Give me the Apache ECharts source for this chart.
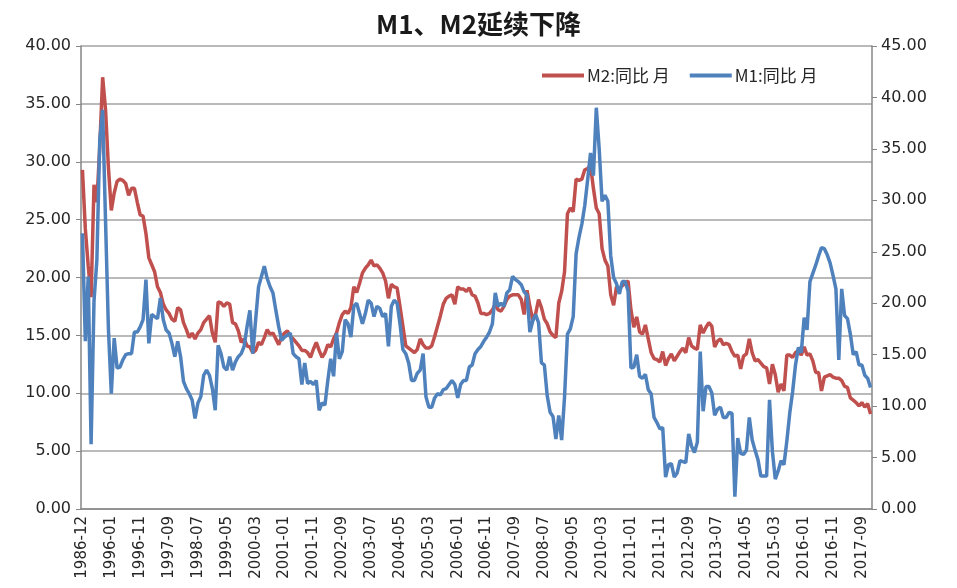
<!DOCTYPE html>
<html>
<head>
<meta charset="utf-8">
<script src="https://cdn.jsdelivr.net/npm/echarts@6/dist/echarts.min.js"></script>
<style>
  html, body { margin: 0; padding: 0; background: #fff; }
  #chart { width: 957px; height: 588px; }
</style>
</head>
<body>
<div id="chart"></div>
<script>
// 年度数据 1986-1995，之后为月度 1996-01 ~ 2017-12
var yearLabels = ['1986-12', '1987-12', '1988-12', '1989-12', '1990-12',
    '1991-12', '1992-12', '1993-12', '1994-12', '1995-12'];
var firstYear = 1996, lastYear = 2017;

// M2:同比 月（左轴）
var m2 = [
    29.3, 24.2, 21.0, 18.3, 28.0, 26.5, 31.3, 37.3, 34.5, 29.5,
    25.8, 27.3, 28.3, 28.5, 28.4, 28.1, 27.1, 27.7, 27.7, 26.5, 25.4, 25.3, // 1996
    23.8, 21.7, 21.1, 20.5, 19.2, 18.7, 17.7, 17.2, 16.9, 16.4, 16.2, 17.4, // 1997
    17.2, 16.1, 15.5, 14.8, 15.2, 14.7, 15.2, 15.5, 16.1, 16.4, 16.7, 15.2, // 1998
    14.4, 17.9, 17.8, 17.5, 17.8, 17.7, 16.1, 16.0, 15.4, 14.4, 14.7, 14.1, // 1999
    14.0, 13.5, 13.7, 14.4, 14.2, 14.8, 15.5, 15.1, 15.2, 14.7, 14.2, 14.9, // 2000
    15.2, 15.4, 14.9, 14.7, 14.4, 14.1, 13.7, 13.7, 13.5, 13.1, 13.8, 14.4, // 2001
    13.7, 13.1, 13.5, 14.2, 14.0, 14.7, 15.2, 16.1, 16.8, 17.1, 16.9, 17.4, // 2002
    19.2, 18.7, 19.5, 20.4, 20.8, 21.1, 21.5, 21.0, 21.1, 20.8, 20.4, 19.7, // 2003
    18.2, 19.4, 19.2, 19.1, 17.5, 15.8, 14.1, 13.9, 13.7, 13.5, 13.8, 14.7, // 2004
    14.2, 13.9, 13.9, 14.1, 14.9, 15.8, 16.7, 17.7, 18.2, 18.4, 18.5, 17.7, // 2005
    19.2, 19.0, 19.0, 18.8, 19.1, 18.5, 18.4, 17.8, 16.9, 16.9, 16.8, 16.9, // 2006
    17.2, 17.7, 17.2, 17.1, 17.5, 18.1, 18.4, 18.5, 18.5, 18.5, 18.1, 16.8, // 2007
    18.9, 17.5, 16.3, 16.9, 18.1, 17.4, 16.4, 16.0, 15.3, 15.0, 14.8, 17.8, // 2008
    18.8, 20.5, 25.5, 26.0, 25.7, 28.5, 28.4, 28.5, 29.3, 29.4, 29.7, 27.7, // 2009
    26.0, 25.5, 22.5, 21.5, 21.0, 18.5, 17.6, 19.2, 19.0, 19.3, 19.5, 19.7, // 2010
    17.2, 15.7, 16.6, 15.3, 15.1, 15.9, 14.7, 13.5, 13.0, 12.9, 12.7, 13.6, // 2011
    12.4, 13.0, 13.4, 12.8, 13.2, 13.6, 13.9, 13.5, 14.8, 14.1, 13.9, 13.8, // 2012
    15.9, 15.2, 15.7, 16.1, 15.8, 14.0, 14.5, 14.7, 14.2, 14.3, 14.2, 13.6, // 2013
    13.2, 13.3, 12.1, 13.2, 13.4, 14.7, 13.5, 12.8, 12.9, 12.6, 12.3, 12.2, // 2014
    10.8, 12.5, 11.6, 10.1, 10.8, 10.2, 13.3, 13.3, 13.1, 13.5, 13.7, 13.3, // 2015
    14.0, 13.3, 13.4, 12.8, 11.8, 11.8, 10.2, 11.4, 11.5, 11.6, 11.4, 11.3, // 2016
    11.3, 11.1, 10.6, 10.5, 9.6, 9.4, 9.2, 8.9, 9.2, 8.8, 9.1, 8.2          // 2017
];

// M1:同比 月（右轴）
var m1 = [
    26.8, 16.3, 22.6, 6.3, 20.2, 24.2, 35.9, 38.8, 28.0, 17.5,
    11.2, 16.6, 13.7, 13.8, 14.5, 15.0, 15.1, 15.1, 17.2, 17.2, 17.7, 18.4, // 1996
    22.3, 16.1, 18.9, 18.7, 18.5, 20.5, 18.4, 17.4, 17.1, 16.1, 14.8, 16.3, // 1997
    14.8, 12.4, 11.7, 11.2, 10.6, 8.8, 10.3, 10.9, 13.0, 13.5, 13.0, 11.7,  // 1998
    9.6, 15.9, 15.1, 13.8, 13.5, 14.8, 13.5, 14.3, 14.8, 15.1, 15.8, 17.7,  // 1999
    19.3, 15.1, 18.4, 21.6, 22.6, 23.6, 22.4, 21.6, 21.0, 19.3, 17.7, 16.4, // 2000
    16.7, 16.9, 17.1, 15.1, 14.8, 14.6, 12.1, 14.2, 12.2, 12.4, 12.1, 12.5, // 2001
    9.6, 10.3, 10.1, 12.5, 14.6, 12.9, 17.1, 14.6, 15.3, 18.4, 18.0, 16.7,  // 2002
    19.7, 20.0, 19.0, 18.0, 19.0, 20.3, 20.0, 18.7, 19.7, 19.5, 18.7, 19.0, // 2003
    15.8, 19.7, 20.3, 20.0, 18.0, 15.5, 15.1, 14.2, 12.5, 12.5, 13.2, 13.5, // 2004
    15.1, 10.9, 9.9, 9.9, 10.8, 11.2, 11.1, 11.6, 11.7, 12.1, 12.5, 12.1,   // 2005
    10.8, 12.1, 12.5, 12.5, 13.8, 14.0, 15.1, 15.5, 15.8, 16.3, 16.7, 17.2, // 2006
    18.0, 21.0, 19.7, 20.0, 19.7, 21.0, 21.3, 22.6, 22.3, 22.1, 21.8, 21.1, // 2007
    20.8, 17.2, 18.3, 18.9, 18.1, 14.2, 14.0, 11.0, 9.4, 9.0, 6.8, 9.1,     // 2008
    6.7, 10.9, 17.0, 17.5, 18.7, 24.8, 26.4, 27.7, 29.5, 32.0, 34.6, 32.4,  // 2009
    39.0, 35.0, 29.9, 30.5, 29.9, 24.6, 22.5, 21.9, 20.9, 22.1, 22.1, 21.2, // 2010
    13.7, 13.8, 15.0, 12.9, 12.7, 13.1, 11.6, 11.2, 8.9, 8.4, 7.8, 7.9,     // 2011
    3.1, 4.3, 4.4, 3.1, 3.5, 4.7, 4.6, 4.5, 7.3, 6.1, 5.5, 6.5,             // 2012
    15.3, 9.5, 11.9, 11.9, 11.3, 9.1, 9.7, 9.9, 8.9, 8.9, 9.4, 9.3,         // 2013
    1.2, 6.9, 5.4, 5.3, 5.7, 8.9, 6.7, 5.7, 4.8, 3.2, 3.2, 3.2,             // 2014
    10.6, 5.6, 2.9, 3.7, 4.7, 4.3, 6.6, 9.3, 11.4, 14.0, 15.7, 15.2,        // 2015
    18.6, 17.4, 22.1, 22.9, 23.7, 24.6, 25.4, 25.3, 24.7, 23.9, 22.7, 21.4, // 2016
    14.5, 21.4, 18.8, 18.5, 17.0, 15.0, 15.3, 14.0, 14.0, 13.0, 12.7, 11.8  // 2017
];

var categories = yearLabels.slice();
for (var y = firstYear; y <= lastYear; y++) {
    for (var m = 1; m <= 12; m++) {
        categories.push(y + '-' + (m < 10 ? '0' + m : m));
    }
}

var labelFont = 'DejaVu Sans';
var gridColor = '#a3a3a3';
var axisColor = '#868686';

var chart = echarts.init(document.getElementById('chart'), null, { renderer: 'canvas' });
chart.setOption({
    animation: false,
    backgroundColor: '#fff',
    title: {
        text: 'M1、M2延续下降',
        left: 'center',
        top: 6,
        textStyle: { fontFamily: 'Noto Sans CJK SC', fontWeight: 'bold', fontSize: 26, color: '#1a1a1a' }
    },
    legend: {
        data: ['M2:同比 月', 'M1:同比 月'],
        left: 537,
        top: 62,
        icon: 'rect',
        itemWidth: 42,
        itemHeight: 4,
        itemGap: 20,
        textStyle: { fontFamily: 'Noto Sans CJK SC', fontSize: 17, color: '#262626', padding: [0, 0, 0, -2] }
    },
    grid: { left: 81, right: 85, top: 46, bottom: 79, containLabel: false },
    xAxis: {
        type: 'category',
        data: categories,
        boundaryGap: true,
        axisLine: { lineStyle: { color: axisColor, width: 1.5 } },
        axisTick: { interval: 0, length: 5, lineStyle: { color: axisColor } },
        axisLabel: {
            interval: 9, rotate: 90, margin: 7,
            fontFamily: labelFont, fontSize: 15, color: '#262626'
        },
        splitLine: { show: false }
    },
    yAxis: [
        {
            type: 'value', min: 0, max: 40, interval: 5, position: 'left',
            axisLine: { show: true, lineStyle: { color: axisColor, width: 1.5 } },
            axisTick: { show: true, length: 5, lineStyle: { color: axisColor } },
            axisLabel: {
                margin: 10, fontFamily: labelFont, fontSize: 16, color: '#262626',
                formatter: function (v) { return v.toFixed(2); }
            },
            splitLine: { lineStyle: { color: gridColor, width: 1.5 } }
        },
        {
            type: 'value', min: 0, max: 45, interval: 5, position: 'right',
            axisLine: { show: true, lineStyle: { color: axisColor, width: 1.5 } },
            axisTick: { show: true, length: 5, lineStyle: { color: axisColor } },
            axisLabel: {
                margin: 9, fontFamily: labelFont, fontSize: 16, color: '#262626',
                formatter: function (v) { return v.toFixed(2); }
            },
            splitLine: { show: false }
        }
    ],
    series: [
        {
            name: 'M2:同比 月', type: 'line', yAxisIndex: 0, data: m2,
            symbol: 'none', lineStyle: { color: '#c0504d', width: 3.5 },
            itemStyle: { color: '#c0504d' }
        },
        {
            name: 'M1:同比 月', type: 'line', yAxisIndex: 1, data: m1,
            symbol: 'none', lineStyle: { color: '#4f81bd', width: 3.5 },
            itemStyle: { color: '#4f81bd' }
        }
    ]
});
window.addEventListener('resize', function () { chart.resize(); });
</script>
</body>
</html>
